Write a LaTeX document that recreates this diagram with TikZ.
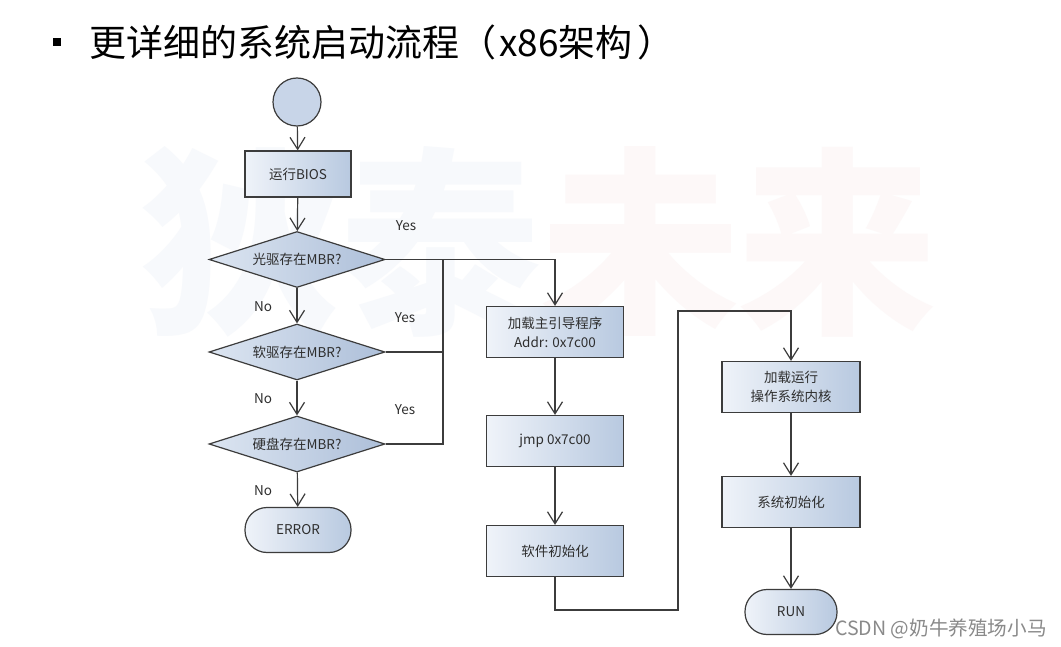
\documentclass[tikz,border=0pt]{standalone}
\usepackage{fontspec}
\setmainfont{Noto Sans CJK SC}
\usetikzlibrary{shapes.geometric,arrows.meta,calc}
\definecolor{lineC}{HTML}{3C3C3C}
\definecolor{txtC}{HTML}{2E2E2E}
\definecolor{boxL}{HTML}{EFF3F9}
\definecolor{boxR}{HTML}{B8C9E0}
\definecolor{diaL}{HTML}{DCE5F1}
\definecolor{diaR}{HTML}{ADBFD9}
\definecolor{circC}{HTML}{C8D5E8}
\definecolor{wmBlue}{HTML}{F7F9FC}
\definecolor{wmRed}{HTML}{FDF8F8}
\definecolor{csdnC}{HTML}{8A8A8A}
\begin{document}
\begin{tikzpicture}[x=1pt,y=-1pt,
  base/.style={draw=lineC, line width=1.2pt, text=txtC, inner sep=0pt,
    font=\fontsize{13.5}{19}\selectfont, align=center},
  stepbox/.style={base, rectangle, left color=boxL, right color=boxR},
  decide/.style={base, diamond, shape aspect=3.2, left color=diaL, right color=diaR,
    minimum width=176pt, minimum height=56pt},
  term/.style={base, rectangle, rounded corners=22pt, left color=boxL, right color=boxR,
    minimum height=45pt},
  startc/.style={base, circle, fill=circC, minimum size=48pt},
  conn/.style={draw=lineC, line width=1.2pt},
  arr/.style={conn, -{Straight Barb[length=12pt,width=15pt]}},
  lbl/.style={text=txtC, font=\fontsize{13.5}{16}\selectfont, inner sep=0pt},
  wm/.style={font=\fontsize{200}{200}\selectfont\bfseries, inner sep=0pt}
]
\useasboundingbox (0,0) rectangle (1061,647);
\fill[white] (0,0) rectangle (1061,647);

% watermark
\node[wm, text=wmBlue] (w1) at (240,242) {狄};
\node[wm, text=wmBlue] (w2) at (440,242) {泰};
\node[wm, text=wmRed] (w3) at (640,242) {未};
\node[wm, text=wmRed] (w4) at (837,242) {来};

% title
\fill[black] (53,38) rectangle (61,46);
\node[anchor=west, inner sep=0pt, font=\fontsize{37}{42}\selectfont, text=black] (title) at (89,42) {更详细的系统启动流程（\hspace{3pt}x86架构\hspace{5pt}）};

% left column
\node[startc] (st) at (297,102) {};
\node[stepbox, minimum width=106pt, minimum height=46pt] (bios) at (298,174) {运行BIOS};
\node[decide] (d1) at (297,259.5) {光驱存在MBR?};
\node[decide] (d2) at (297,352) {软驱存在MBR?};
\node[decide] (d3) at (297,444) {硬盘存在MBR?};
\node[term, minimum width=106pt] (err) at (298,530) {ERROR};

% middle column
\node[stepbox, minimum width=137pt, minimum height=51pt] (b1) at (555,332) {加载主引导程序\\Addr: 0x7c00};
\node[stepbox, minimum width=137pt, minimum height=51pt] (b2) at (555,441) {jmp 0x7c00};
\node[stepbox, minimum width=137pt, minimum height=51pt] (b3) at (555,551) {软件初始化};

% right column
\node[stepbox, minimum width=138pt, minimum height=51pt] (k1) at (791,387) {加载运行\\操作系统内核};
\node[stepbox, minimum width=138pt, minimum height=51pt] (k2) at (791,502) {系统初始化};
\node[term, minimum width=92pt] (run) at (791,612) {RUN};

% junction coordinates
\coordinate (j1) at (443,259.5);
\coordinate (j2) at (443,352);
\coordinate (j3) at (443,444);
\coordinate (m1) at (555,610);
\coordinate (m2) at (678,610);
\coordinate (m3) at (678,311);
\coordinate (m4) at (791,311);

% connectors
\draw[arr] (st) -- (bios);
\draw[arr] (bios) -- (d1);
\draw[arr] (d1) -- (d2);
\draw[arr] (d2) -- (d3);
\draw[arr] (d3) -- (err);
\draw[arr] (d1.east) -| (b1.north);
\draw[conn] (d2.east) -- (j2);
\draw[conn] (d3.east) -- (j3) -- (j1);
\draw[arr] (b1) -- (b2);
\draw[arr] (b2) -- (b3);
\draw[arr] (b3.south) -- (m1) -- (m2) -- (m3) -- (m4) -- (k1.north);
\draw[arr] (k1) -- (k2);
\draw[arr] (k2) -- (run);

% labels
\node[lbl] (y1) at (406,226) {Yes};
\node[lbl] (y2) at (405,318) {Yes};
\node[lbl] (y3) at (405,410) {Yes};
\node[lbl] (n1) at (263,307) {No};
\node[lbl] (n2) at (263,399) {No};
\node[lbl] (n3) at (263,491) {No};

% csdn
\node[anchor=west, inner sep=0pt, text=csdnC, font=\fontsize{19.6}{22}\selectfont] (csdn) at (835,629) {CSDN @奶牛养殖场小马};
\end{tikzpicture}
\end{document}
